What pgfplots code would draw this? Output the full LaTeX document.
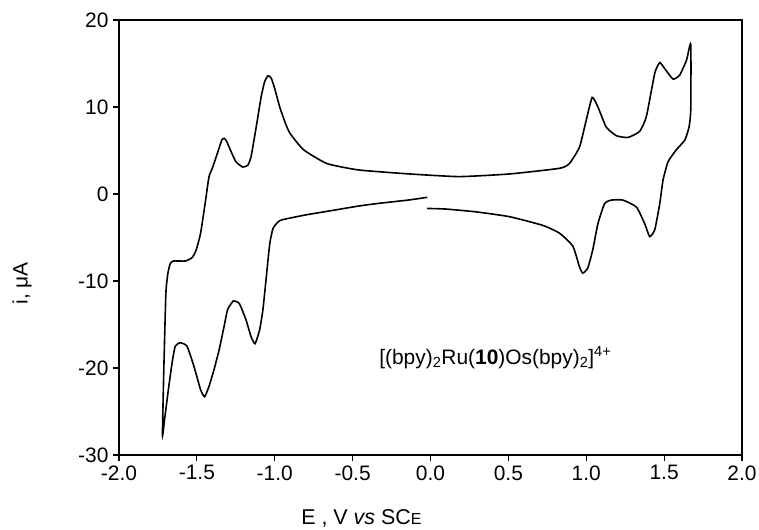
\documentclass[border=0pt]{standalone}
\usepackage{fontspec}
\setmainfont{Liberation Sans}
\usepackage{pgfplots}
\pgfplotsset{compat=1.18}

\begin{document}
\begin{tikzpicture}
\path[use as bounding box] (-119bp,-75bp) rectangle (640bp,455bp);
\begin{axis}[
  scale only axis,
  width=623bp, height=435bp,
  at={(0,0)}, anchor=south west,
  xmin=-2, xmax=2, ymin=-30, ymax=20,
  xtick={-2,-1.5,-1,-0.5,0,0.5,1,1.5,2},
  xticklabels={-2.0,-1.5,-1.0,-0.5,0.0,0.5,1.0,1.5,2.0},
  ytick={-30,-20,-10,0,10,20},
  yticklabels={-30,-20,-10,0,10,20},
  xtick pos=bottom, ytick pos=left,
  tick align=outside,
  major tick length=6bp,
  axis line style={line width=1.3bp},
  every tick/.style={black, line width=1.1bp},
  tick label style={font=\fontsize{21}{23}\selectfont},
  xticklabel style={yshift=-1bp},
  yticklabel style={xshift=-1bp},
  xlabel={E , V \textit{vs} SC{\fontsize{16}{18}\selectfont E}},
  xlabel style={font=\fontsize{21.5}{23}\selectfont, at={(axis description cs:0.389,0)}, anchor=center, yshift=-63bp},
  ylabel={i, μA},
  ylabel style={font=\fontsize{21}{23}\selectfont, at={(axis description cs:0,0.395)}, anchor=center, yshift=97bp},
  clip=false,
]
\addplot[black, line width=1.6bp, smooth, tension=0.3] coordinates {
  (-0.02,-0.38) (-0.14,-0.69) (-0.33,-1.07) (-0.46,-1.38) (-0.60,-1.80)
  (-0.80,-2.40) (-0.95,-2.95) (-0.978,-3.2) (-1.011,-3.95) (-1.032,-5.7)
  (-1.054,-9.5) (-1.076,-13.3) (-1.097,-15.6) (-1.126,-17.2) (-1.152,-16.4)
  (-1.184,-14.5) (-1.227,-12.6) (-1.266,-12.3) (-1.303,-13.3) (-1.325,-15.2)
  (-1.357,-17.9) (-1.390,-20.2) (-1.422,-22.1) (-1.450,-23.3) (-1.476,-22.5)
  (-1.519,-19.8) (-1.563,-17.5) (-1.606,-17.1) (-1.639,-17.5) (-1.660,-19.5)
  (-1.686,-22.9) (-1.708,-26.0) (-1.721,-27.7)
  (-1.712,-20.0) (-1.699,-11.4) (-1.686,-9.1) (-1.671,-8.0) (-1.650,-7.7)
  (-1.574,-7.7) (-1.530,-7.3) (-1.504,-6.4) (-1.476,-4.5) (-1.444,-0.7)
  (-1.422,2.0) (-1.400,3.0) (-1.368,4.7) (-1.340,6.2) (-1.325,6.4)
  (-1.310,6.1) (-1.281,4.9) (-1.249,3.7) (-1.206,3.1) (-1.173,3.3)
  (-1.152,4.3) (-1.119,7.7) (-1.087,11.2) (-1.065,12.9) (-1.043,13.6)
  (-1.022,13.3) (-1.000,12.1) (-0.968,10.0) (-0.935,8.3) (-0.903,7.0)
  (-0.816,5.1) (-0.665,3.5) (-0.460,2.76) (-0.130,2.3) (0.184,2.0)
  (0.505,2.3) (0.828,2.95) (0.892,3.5) (0.957,5.4) (1.000,8.5)
  (1.038,11.1) (1.075,10.0) (1.128,7.7) (1.193,6.7) (1.268,6.5)
  (1.343,7.2) (1.386,8.9) (1.440,13.9) (1.472,15.1) (1.504,14.4)
  (1.558,13.2) (1.601,13.7) (1.644,15.4) (1.671,17.2)
  (1.671,9.7) (1.660,7.7) (1.633,6.2) (1.579,5.1) (1.525,3.7)
  (1.493,1.6) (1.472,-1.1) (1.440,-4.1) (1.407,-4.9) (1.375,-3.4)
  (1.322,-1.5) (1.235,-0.7) (1.161,-0.7) (1.118,-1.1) (1.075,-3.4)
  (1.042,-6.4) (1.010,-8.5) (0.978,-9.1) (0.957,-8.4) (0.914,-6.0)
  (0.828,-4.5) (0.720,-3.6) (0.505,-2.6) (0.291,-2.05) (0.098,-1.73)
  (-0.021,-1.66)
};
\node[anchor=west, font=\fontsize{21}{23}\selectfont, inner sep=0pt]
  at (axis cs:-0.33,-18.8)
  {[(bpy)\textsubscript{2}Ru(\textbf{10})Os(bpy)\textsubscript{2}]\textsuperscript{4+}};
\end{axis}
\end{tikzpicture}
\end{document}
